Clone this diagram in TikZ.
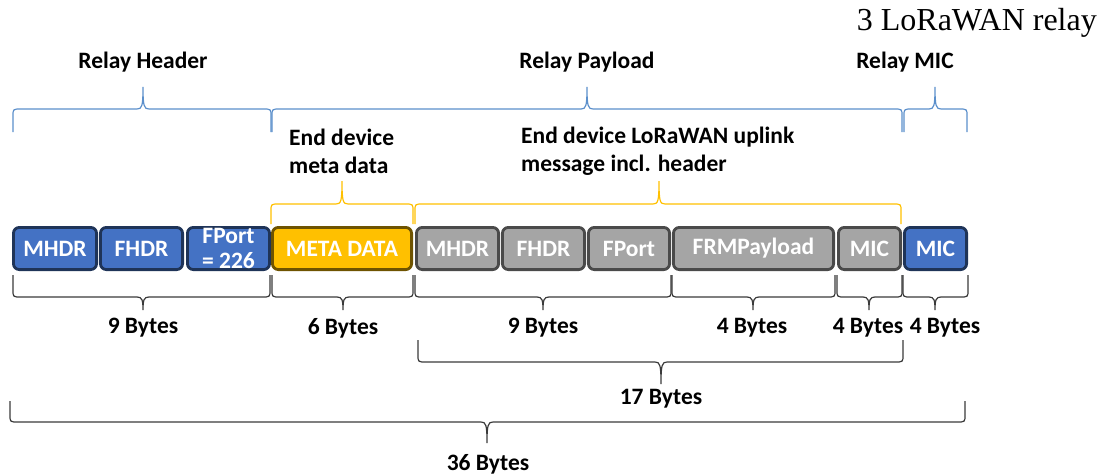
\documentclass[tikz,border=0pt]{standalone}
\usepackage{fontspec}
\setmainfont{Carlito}
\newfontfamily\titlefont{Liberation Serif}
\definecolor{fblue}{HTML}{4472C4}
\definecolor{fbluedk}{HTML}{1F3458}
\definecolor{fgold}{HTML}{FFC000}
\definecolor{fgolddk}{HTML}{6E5300}
\definecolor{fgray}{HTML}{A5A5A5}
\definecolor{fgraydk}{HTML}{4A4A4A}
\definecolor{bblue}{HTML}{5B8FCB}
\definecolor{bblack}{HTML}{3A3A3A}
\newcommand{\mybrace}[8]{%
  \draw[#1] ({#2},{#5}) -- ({#2},{#6+(#8)}) .. controls ({#2},{#6}) .. ({#2+8},{#6})
    -- ({#4-6},{#6}) .. controls ({#4-1},{#6}) and ({#4},{#6-(#8)*0.4}) .. ({#4},{#7})
    .. controls ({#4},{#6-(#8)*0.4}) and ({#4+1},{#6}) .. ({#4+6},{#6})
    -- ({#3-8},{#6}) .. controls ({#3},{#6}) .. ({#3},{#6+(#8)}) -- ({#3},{#5});}
\begin{document}
\begin{tikzpicture}[x=1pt,y=-1pt,
  fld/.style={draw, line width=2.8pt, rounded corners=6pt, minimum height=42.2pt,
    inner sep=0pt, text=white, font=\bfseries\fontsize{23.5}{26}\selectfont},
  bluef/.style={fld, fill=fblue, draw=fbluedk},
  goldf/.style={fld, fill=fgold, draw=fgolddk},
  grayf/.style={fld, fill=fgray, draw=fgraydk},
  lbl/.style={font=\bfseries\fontsize{23.5}{28}\selectfont, text=black, inner sep=0pt},
  bbr/.style={draw=bblue, line width=1.2pt},
  ybr/.style={draw=fgold, line width=1.2pt},
  kbr/.style={draw=bblack, line width=1.2pt}]
\useasboundingbox (0,0) rectangle (1106,474);
\node[anchor=east, font=\titlefont\fontsize{32}{32}\selectfont, inner sep=0pt] (title) at (1097,23) {3 LoRaWAN relay};
% fields
\node[bluef, minimum width=83.2pt] (mhdr) at (55,248.5) {MHDR};
\node[bluef, minimum width=82.2pt] (fhdr) at (141.5,248.5) {FHDR};
\node[bluef, minimum width=82.2pt, align=center] (fport) at (228.5,248.5) {FPort\\[-1pt]= 226};
\node[goldf, minimum width=139.2pt] (meta) at (342,248.5) {META DATA};
\node[grayf, minimum width=82.2pt] (gmhdr) at (457.5,248.5) {MHDR};
\node[grayf, minimum width=82.2pt] (gfhdr) at (543.5,248.5) {FHDR};
\node[grayf, minimum width=81.2pt] (gfport) at (629,248.5) {FPort};
\node[grayf, minimum width=160.2pt] (frm) at (753.5,248.5) {FRMPayload};
\node[grayf, minimum width=62.2pt] (gmic) at (869.5,248.5) {MIC};
\node[bluef, minimum width=62.2pt] (bmic) at (935.5,248.5) {MIC};
% top blue braces
\mybrace{bbr}{13}{271}{143}{132}{109}{87}{7}
\mybrace{bbr}{272}{902}{587}{132}{109}{87}{7}
\mybrace{bbr}{904}{967}{935}{132}{109}{87}{7}
\node[lbl] (lrh) at (143,62) {Relay Header};
\node[lbl] (lrp) at (587,62) {Relay Payload};
\node[lbl] (lrm) at (905,62) {Relay MIC};
% yellow braces
\mybrace{ybr}{271}{413}{342}{224}{204}{181}{7}
\mybrace{ybr}{415}{901}{659}{224}{204}{181}{7}
\node[lbl, anchor=west, align=left] (lmeta) at (289,151) {End device\\meta data};
\node[lbl, anchor=west, align=left] (lup) at (521,151) {End device LoRaWAN uplink\\message incl. header};
% bottom braces
\mybrace{kbr}{13}{270}{143}{275}{297}{310}{-7}
\mybrace{kbr}{272}{413}{343}{275}{297}{310}{-7}
\mybrace{kbr}{415}{671}{543}{275}{297}{310}{-7}
\mybrace{kbr}{672}{835}{753}{275}{297}{310}{-7}
\mybrace{kbr}{837}{902}{869}{275}{297}{310}{-7}
\mybrace{kbr}{903}{968}{935}{275}{297}{310}{-7}
\node[lbl] (b1) at (143,328) {9 Bytes};
\node[lbl] (b2) at (343,328) {6 Bytes};
\node[lbl] (b3) at (543,328) {9 Bytes};
\node[lbl] (b4) at (752,328) {4 Bytes};
\node[lbl] (b5) at (868,328) {4 Bytes};
\node[lbl] (b6) at (945,328) {4 Bytes};
\mybrace{kbr}{418}{903}{661}{340}{362}{384}{-7}
\node[lbl] (b17) at (661,399) {17 Bytes};
\mybrace{kbr}{10}{965}{487}{401}{422}{443}{-7}
\node[lbl] (b36) at (488,464) {36 Bytes};
\end{tikzpicture}
\end{document}
